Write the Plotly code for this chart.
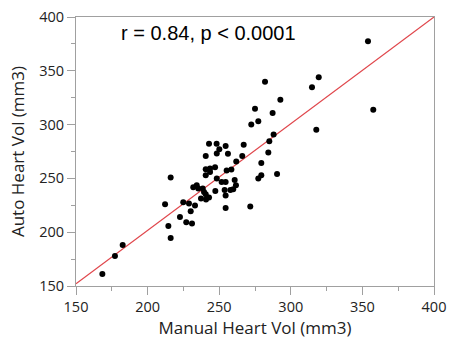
import plotly.graph_objects as go

manual_vol = [353.9, 357.6, 319.5, 314.8, 317.8, 282.0, 292.7, 275.0, 287.3, 277.3,
              272.4, 288.0, 285.0, 242.9, 248.2, 254.5, 267.1, 250.1, 240.6, 248.3,
              256.1, 266.1, 284.3, 261.9, 279.4, 240.6, 243.6, 247.1, 243.6, 240.6,
              255.2, 258.5, 216.1, 248.3, 251.7, 254.5, 260.8, 277.3, 279.4, 290.4,
              231.9, 234.3, 235.4, 238.5, 239.4, 247.3, 253.8, 257.8, 259.8, 261.7,
              212.2, 224.9, 228.9, 237.3, 240.6, 240.8, 242.9, 254.5, 233.1, 230.1,
              254.5, 271.7, 222.6, 227.0, 231.0, 214.5, 216.1, 182.6, 177.2, 168.4]
auto_vol = [377.4, 313.7, 343.9, 334.6, 295.1, 339.8, 323.0, 314.7, 310.7, 303.2,
            300.1, 290.8, 284.6, 282.1, 282.1, 280.2, 281.2, 277.2, 270.9, 273.2,
            272.8, 270.9, 274.1, 265.7, 264.4, 258.5, 259.2, 260.4, 256.0, 252.9,
            257.3, 258.3, 250.8, 249.9, 246.7, 246.7, 248.6, 249.9, 252.9, 254.2,
            241.8, 243.6, 240.6, 240.6, 237.4, 238.3, 239.3, 239.3, 239.9, 243.6,
            226.0, 227.8, 226.6, 231.3, 235.3, 230.3, 232.2, 234.1, 224.8, 219.5,
            222.5, 223.8, 214.2, 209.2, 208.0, 205.8, 194.6, 188.1, 177.9, 161.1]
fit_x = [150, 400]
fit_y = [152, 400]
tick_vals = [150, 200, 250, 300, 350, 400]
annotation_text = "r = 0.84, p < 0.0001"

fig = go.Figure()
fig.add_trace(go.Scatter(x=fit_x, y=fit_y, mode="lines",
                         line=dict(color="#e0474c", width=1.2),
                         hoverinfo="skip", showlegend=False))
fig.add_trace(go.Scatter(x=manual_vol, y=auto_vol, mode="markers",
                         marker=dict(color="black", size=6),
                         showlegend=False))

axis_common = dict(
    range=[150, 400], tickvals=tick_vals, ticks="outside", ticklen=8,
    tickcolor="#a0a0a0", showline=True, linecolor="#a0a0a0", linewidth=1,
    mirror=True, showgrid=False, zeroline=False, automargin=False,
    tickfont=dict(family="Open Sans", size=14.5, color="#222"),
    minor=dict(dtick=25, ticks="outside", ticklen=4, tickcolor="#a0a0a0"),
)
fig.update_xaxes(**axis_common,
                 title=dict(text="Manual Heart Vol (mm3)",
                            font=dict(family="Open Sans", size=17, color="#222"),
                            standoff=6))
fig.update_yaxes(**axis_common,
                 title=dict(text="Auto Heart Vol (mm3)",
                            font=dict(family="Open Sans", size=17, color="#222"),
                            standoff=10))

fig.add_annotation(x=0.12, y=0.99, xref="paper", yref="paper",
                   text=annotation_text, showarrow=False,
                   xanchor="left", yanchor="top",
                   font=dict(family="Liberation Sans", size=20, color="black"))

fig.update_layout(width=450, height=344,
                  margin=dict(l=76, r=16, t=17, b=58, autoexpand=False),
                  plot_bgcolor="white", paper_bgcolor="white")

fig.write_html("out.html",
               config={"displayModeBar": False},
               post_script="document.body.style.margin='0';document.body.style.overflow='hidden';")
